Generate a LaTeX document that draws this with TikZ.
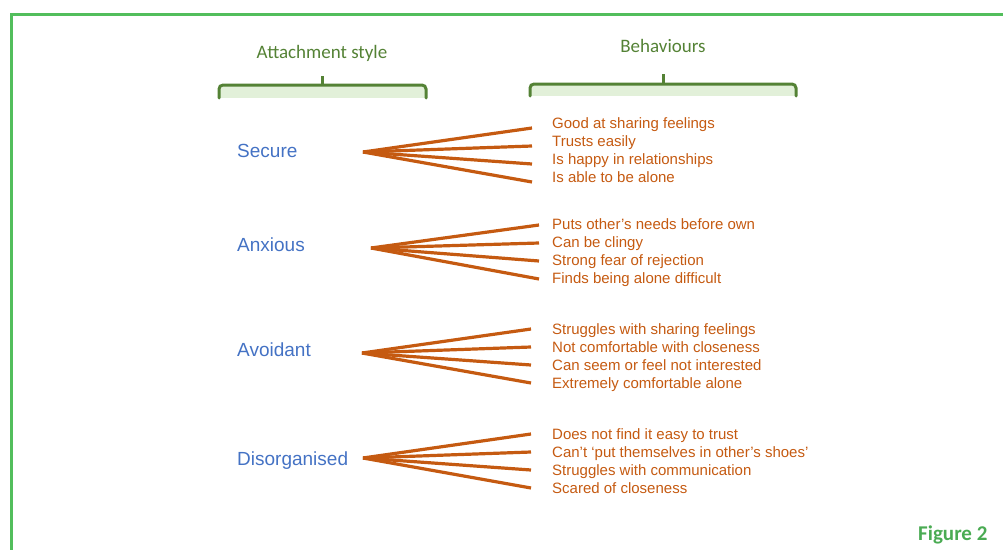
\documentclass[tikz,border=0pt]{standalone}
\usepackage{fontspec}
\setmainfont{Liberation Sans}
\newfontfamily\calibrifont{Carlito}
\usetikzlibrary{positioning}

\definecolor{framegreen}{RGB}{82,190,92}
\definecolor{headgreen}{RGB}{84,130,53}
\definecolor{bracefill}{RGB}{226,240,217}
\definecolor{styleblue}{RGB}{68,114,196}
\definecolor{behorange}{RGB}{197,90,17}

\tikzset{
  headlabel/.style={anchor=base, inner sep=0pt, text=headgreen, font=\calibrifont\fontsize{19}{23}\selectfont},
  stylelabel/.style={anchor=base west, inner sep=0pt, text=styleblue, font=\fontsize{19}{23}\selectfont},
  behlabel/.style={anchor=base west, inner sep=0pt, text=behorange, font=\fontsize{15}{18}\selectfont},
  fanline/.style={draw=behorange, line width=3.2pt},
  braceline/.style={draw=headgreen, line width=3pt, line cap=round, rounded corners=4pt}
}

\begin{document}
\begin{tikzpicture}[x=1pt, y=-1pt]
      \useasboundingbox (0,0) rectangle (1003,549);
      \clip (0,0) rectangle (1003,549);
      \draw[framegreen, line width=3pt] (11.5,14.5) rectangle (1012,560);

      % headers
      \node[headlabel] (attach) at (322,58) {Attachment style};
      \node[headlabel] (behav) at (663,52) {Behaviours};

      \fill[bracefill] (219,85) rectangle (426,98);
      \draw[braceline] (219,98) -- (219,85) -- (426,85) -- (426,98);
      \draw[headgreen, line width=3pt] (322,86) -- (322,76);

      \fill[bracefill] (530,84) rectangle (796,96);
      \draw[braceline] (530,96) -- (530,84) -- (796,84) -- (796,96);
      \draw[headgreen, line width=3pt] (663,85) -- (663,74);

      % attachment styles
      \node[stylelabel] (secure) at (237,157) {Secure};
      \node[stylelabel] (anxious) at (237,251) {Anxious};
      \node[stylelabel] (avoidant) at (237,356) {Avoidant};
      \node[stylelabel] (disorg) at (237,465) {Disorganised};

      \coordinate (secure-o) at (363,152);
      \coordinate (anxious-o) at (371,248);
      \coordinate (avoidant-o) at (362,353);
      \coordinate (disorg-o) at (363,458);

      % behaviours
      \node[behlabel] (s1) at (552,128) {Good at sharing feelings};
      \node[behlabel] (s2) at (552,146) {Trusts easily};
      \node[behlabel] (s3) at (552,164) {Is happy in relationships};
      \node[behlabel] (s4) at (552,182) {Is able to be alone};

      \node[behlabel] (a1) at (552,229) {Puts other’s needs before own};
      \node[behlabel] (a2) at (552,247) {Can be clingy};
      \node[behlabel] (a3) at (552,265) {Strong fear of rejection};
      \node[behlabel] (a4) at (552,283) {Finds being alone difficult};

      \node[behlabel] (v1) at (552,334) {Struggles with sharing feelings};
      \node[behlabel] (v2) at (552,352) {Not comfortable with closeness};
      \node[behlabel] (v3) at (552,370) {Can seem or feel not interested};
      \node[behlabel] (v4) at (552,388) {Extremely comfortable alone};

      \node[behlabel] (d1) at (552,439) {Does not find it easy to trust};
      \node[behlabel] (d2) at (552,457) {Can’t ‘put themselves in other’s shoes’};
      \node[behlabel] (d3) at (552,475) {Struggles with communication};
      \node[behlabel] (d4) at (552,493) {Scared of closeness};

      % fans
      \foreach \b in {s1,s2,s3,s4}
        \draw[fanline] (secure-o) -- ([xshift=-20pt]\b.base west);
      \foreach \b in {a1,a2,a3,a4}
        \draw[fanline] (anxious-o) -- ([xshift=-13pt,yshift=4pt]\b.base west);
      \foreach \b in {v1,v2,v3,v4}
        \draw[fanline] (avoidant-o) -- ([xshift=-21pt,yshift=5pt]\b.base west);
      \foreach \b in {d1,d2,d3,d4}
        \draw[fanline] (disorg-o) -- ([xshift=-21pt,yshift=5pt]\b.base west);

      \node[anchor=base west, inner sep=0pt, text=framegreen!90!black, font=\calibrifont\bfseries\fontsize{21}{25}\selectfont] (fig) at (918,540) {Figure 2};
  \end{tikzpicture}
\end{document}
